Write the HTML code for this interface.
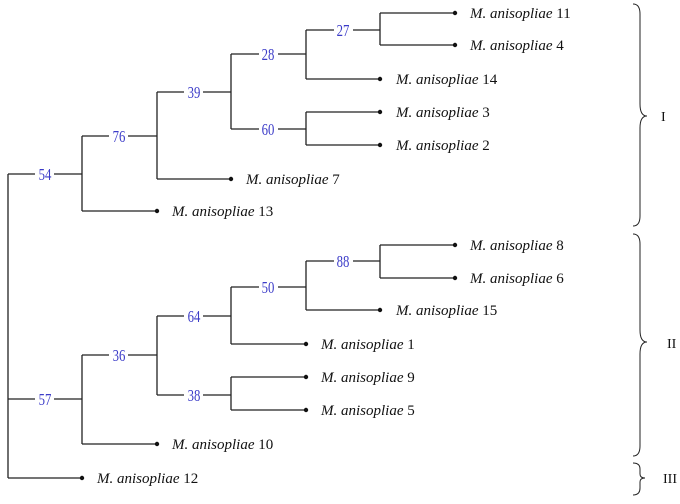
<!DOCTYPE html>
<html><head><meta charset="utf-8"><style>
html,body{margin:0;padding:0;background:#fff;}
svg{display:block;}
.t{font-family:"Liberation Serif",serif;font-size:15px;fill:#111;}
.n{font-family:"Liberation Serif",serif;font-size:17px;fill:#3b3bc8;}
</style></head><body>
<svg width="680" height="504" viewBox="0 0 680 504" xmlns="http://www.w3.org/2000/svg">
<g stroke="#222" stroke-width="1.3" fill="none">
<path d="M8 174V478M8 174H82M8 399H82M8 478H82"/>
<path d="M82 136V211M82 136H157M82 211H157"/>
<path d="M157 92V179M157 92H231M157 179H231"/>
<path d="M231 54V129M231 54H306M231 129H306"/>
<path d="M306 30V79M306 30H380M306 79H380"/>
<path d="M380 13V45M380 13H455M380 45H455"/>
<path d="M306 112V145M306 112H380M306 145H380"/>
<path d="M82 355V444M82 355H157M82 444H157"/>
<path d="M157 316V395M157 316H231M157 395H231"/>
<path d="M231 287V344M231 287H306M231 344H306"/>
<path d="M306 261V310M306 261H380M306 310H380"/>
<path d="M380 245V278M380 245H455M380 278H455"/>
<path d="M231 377V410M231 377H306M231 410H306"/>
<path d="M633 4Q640 4 640 14V104Q640 116 647 116Q640 116 640 128V216Q640 226 633 226" stroke-width="1"/>
<path d="M633 234Q640 234 640 244V330Q640 342 647 342Q640 342 640 354V446Q640 456 633 456" stroke-width="1"/>
<path d="M633 463Q640 463 640 469V474Q640 478 645 478Q640 478 640 482V488Q640 495 633 495" stroke-width="1"/>
</g>
<g fill="#111">
<circle cx="455" cy="13" r="2.2"/><circle cx="455" cy="45" r="2.2"/><circle cx="380" cy="79" r="2.2"/>
<circle cx="380" cy="112" r="2.2"/><circle cx="380" cy="145" r="2.2"/><circle cx="231" cy="179" r="2.2"/>
<circle cx="157" cy="211" r="2.2"/>
<circle cx="455" cy="245" r="2.2"/><circle cx="455" cy="278" r="2.2"/><circle cx="380" cy="310" r="2.2"/>
<circle cx="306" cy="344" r="2.2"/><circle cx="306" cy="377" r="2.2"/><circle cx="306" cy="410" r="2.2"/>
<circle cx="157" cy="444" r="2.2"/><circle cx="82" cy="478" r="2.2"/>
</g>
<g fill="#fff">
<rect x="35" y="165" width="19" height="18"/><rect x="109" y="127" width="19" height="18"/>
<rect x="184" y="83" width="19" height="18"/><rect x="259" y="45" width="19" height="18"/>
<rect x="334" y="21" width="19" height="18"/><rect x="259" y="120" width="19" height="18"/>
<rect x="35" y="390" width="19" height="18"/><rect x="109" y="346" width="19" height="18"/>
<rect x="184" y="307" width="19" height="18"/><rect x="259" y="278" width="19" height="18"/>
<rect x="334" y="252" width="19" height="18"/><rect x="184" y="386" width="19" height="18"/>
</g>
<g class="n" text-anchor="middle">
<text transform="translate(45 180) scale(0.75 1)">54</text>
<text transform="translate(119 142) scale(0.75 1)">76</text>
<text transform="translate(194 98) scale(0.75 1)">39</text>
<text transform="translate(268 60) scale(0.75 1)">28</text>
<text transform="translate(343 36) scale(0.75 1)">27</text>
<text transform="translate(268 135) scale(0.75 1)">60</text>
<text transform="translate(45 405) scale(0.75 1)">57</text>
<text transform="translate(119 361) scale(0.75 1)">36</text>
<text transform="translate(194 322) scale(0.75 1)">64</text>
<text transform="translate(268 293) scale(0.75 1)">50</text>
<text transform="translate(343 267) scale(0.75 1)">88</text>
<text transform="translate(194 401) scale(0.75 1)">38</text>
</g>
<g class="t">
<text x="470" y="18"><tspan font-style="italic">M. anisopliae</tspan> 11</text>
<text x="470" y="50"><tspan font-style="italic">M. anisopliae</tspan> 4</text>
<text x="396" y="84"><tspan font-style="italic">M. anisopliae</tspan> 14</text>
<text x="396" y="117"><tspan font-style="italic">M. anisopliae</tspan> 3</text>
<text x="396" y="150"><tspan font-style="italic">M. anisopliae</tspan> 2</text>
<text x="246" y="184"><tspan font-style="italic">M. anisopliae</tspan> 7</text>
<text x="172" y="216"><tspan font-style="italic">M. anisopliae</tspan> 13</text>
<text x="470" y="250"><tspan font-style="italic">M. anisopliae</tspan> 8</text>
<text x="470" y="283"><tspan font-style="italic">M. anisopliae</tspan> 6</text>
<text x="396" y="315"><tspan font-style="italic">M. anisopliae</tspan> 15</text>
<text x="321" y="349"><tspan font-style="italic">M. anisopliae</tspan>  1</text>
<text x="321" y="382"><tspan font-style="italic">M. anisopliae</tspan> 9</text>
<text x="321" y="415"><tspan font-style="italic">M. anisopliae</tspan> 5</text>
<text x="172" y="449"><tspan font-style="italic">M. anisopliae</tspan> 10</text>
<text x="97" y="483"><tspan font-style="italic">M. anisopliae</tspan> 12</text>
<text x="661" y="121" font-size="14">I</text>
<text x="667" y="348" font-size="14">II</text>
<text x="663" y="483" font-size="14">III</text>
</g>
</svg>
</body></html>
